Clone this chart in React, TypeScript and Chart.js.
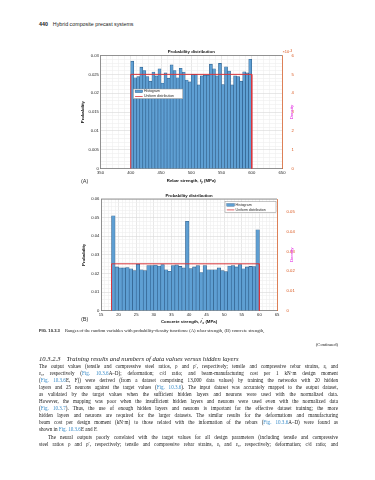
import React, { useEffect, useRef } from "react";
import { Chart, registerables } from "chart.js";

Chart.register(...registerables);

// ---------------- DATA ----------------
const headerPage = "440";
const headerTitle = "Hybrid composite precast systems";

const chartTitle = "Probability distribution";
const leftAxisTitle = "Probability";
const rightAxisTitle = "Density";
const legendLabels = ["Histogram", "Uniform distribution"];

// (A) rebar strength
const rebarRange = [400, 600];
const rebarProbability = [
  0.0285, 0.0241, 0.0244, 0.0269, 0.026, 0.0244, 0.0232, 0.0256, 0.0246, 0.0265,
  0.0227, 0.0254, 0.024, 0.0275, 0.026, 0.0241, 0.0266, 0.0256, 0.0235, 0.023,
  0.025, 0.025, 0.0222, 0.0246, 0.0248, 0.0248, 0.0277, 0.0265, 0.0246, 0.0279,
  0.0223, 0.027, 0.0259, 0.0222, 0.0246, 0.0244, 0.0232, 0.0257, 0.0254, 0.029,
];
const rebarUniformDensity = 0.005;
const rebarXTicks = [350, 400, 450, 500, 550, 600, 650];
const rebarYTicks = [0, 0.005, 0.01, 0.015, 0.02, 0.025, 0.03];
const rebarDensityTicks = [0, 0.001, 0.002, 0.003, 0.004, 0.005, 0.006];
const rebarXTitle = ["Rebar strength, ", "f", "y", " (MPa)"];

// (B) concrete strength
const concreteRange = [18, 60];
const concreteProbability = [
  0.051, 0.0235, 0.023, 0.023, 0.0232, 0.0225, 0.0215, 0.025, 0.022, 0.0215,
  0.0242, 0.0242, 0.0245, 0.024, 0.0248, 0.022, 0.0212, 0.0242, 0.0246, 0.0238,
  0.023, 0.048, 0.0226, 0.0235, 0.0242, 0.0205, 0.0242, 0.022, 0.022, 0.022,
  0.023, 0.0215, 0.021, 0.024, 0.0242, 0.0235, 0.0248, 0.0225, 0.0235, 0.0238,
  0.0237, 0.0435,
];
const concreteUniformDensity = 0.0238;
const concreteXTicks = [15, 20, 25, 30, 35, 40, 45, 50, 55, 60, 65];
const concreteYTicks = [0, 0.01, 0.02, 0.03, 0.04, 0.05, 0.06];
const concreteDensityTicks = [0, 0.01, 0.02, 0.03, 0.04, 0.05];
const concreteDensityMax = 0.0567;
const concreteXTitle = ["Concrete strength, ", "f", "c", " (MPa)"];

const figCaptionLabel = "FIG. 10.3.3";
const figCaption =
  "Ranges of the random variables with probability-density functions: (A) rebar strength, (B) concrete strength,";
const continued = "(Continued)";
const sectionNumber = "10.3.2.3";
const sectionTitle = "Training results and numbers of data values versus hidden layers";
const bodyLines = [
  "The output values (tensile and compressive steel ratios, ρ and ρ′, respectively; tensile and compressive rebar strains, εt and",
  "εc, respectively ({Fig. 10.3.6}A–D); deformation; c/d ratio; and beam-manufacturing cost per 1 kN·m design moment",
  "({Fig. 10.3.6}E, F)) were derived (from a dataset comprising 13,000 data values) by training the networks with 20 hidden",
  "layers and 25 neurons against the target values ({Fig. 10.3.6}). The input dataset was accurately mapped to the output dataset,",
  "as validated by the target values when the sufficient hidden layers and neurons were used with the normalized data.",
  "However, the mapping was poor when the insufficient hidden layers and neurons were used even with the normalized data",
  "({Fig. 10.3.7}). Thus, the use of enough hidden layers and neurons is important for the effective dataset training; the more",
  "hidden layers and neurons are required for the larger datasets. The similar results for the deformations and manufacturing",
  "beam cost per design moment (kN·m) to those related with the information of the rebars ({Fig. 10.3.6}A–D) were found as",
  "shown in {Fig. 10.3.6}E and F.",
  "The neural outputs poorly correlated with the target values for all design parameters (including tensile and compressive",
  "steel ratios ρ and ρ′, respectively; tensile and compressive rebar strains, εt and εc, respectively; deformation; c/d ratio; and",
];

// ---------------- STYLE ----------------
const FONT = '"Liberation Sans", Arial, sans-serif';
const SERIF = '"Liberation Serif", "Times New Roman", serif';
const TEXT = "#262626";
const AXIS = "#555555";
const ORANGE = "#D95319";
const MAGENTA = "#E020E0";
const RED = "#D8363C";
const BAR_FILL = "#5e9fd3";
const BAR_EDGE = "#2d5c88";
const GRID_MAJOR = "#d8d8d8";
const GRID_MINOR = "#efefef";
const LINK = "#3a8cc8";

const near = (v: number, list: number[]) => list.some((t) => Math.abs(t - v) < 1e-7 * Math.max(1, Math.abs(t)));
const fmt = (v: number) => (Math.abs(v) < 1e-12 ? "0" : String(parseFloat(v.toFixed(4))));

function drawRich(ctx: any, parts: { t: string; font: string; dy?: number }[], cx: number, cy: number) {
  let w = 0;
  parts.forEach((p) => {
    ctx.font = p.font;
    w += ctx.measureText(p.t).width;
  });
  let x = cx - w / 2;
  ctx.textAlign = "left";
  ctx.textBaseline = "middle";
  parts.forEach((p) => {
    ctx.font = p.font;
    ctx.fillText(p.t, x, cy + (p.dy || 0));
    x += ctx.measureText(p.t).width;
  });
}

type Spec = {
  range: number[];
  probs: number[];
  density: number;
  xTicks: number[];
  xMinor: number;
  yTicks: number[];
  yMinor: number;
  y1Ticks: number[];
  y1Max: number;
  y1Mult: number;
  xTitle: string[];
  prime: boolean;
  exponent: boolean;
  padTop: number;
  leftW: number;
  rightW: number;
  bottomH: number;
  titleGap: number;
  xTitleGap: number;
  yTitleGap: number;
  y1TitleGap: number;
  legend: { anchor: "left" | "right"; dx: number; dy: number; w: number; h: number; r1: number; r2: number };
};

function makeDecor(s: Spec) {
  return {
    id: "decor",
    afterDraw(chart: any) {
      const { ctx, chartArea: ca } = chart;
      const cx = (ca.left + ca.right) / 2;
      const cy = (ca.top + ca.bottom) / 2;
      ctx.save();
      ctx.strokeStyle = AXIS;
      ctx.lineWidth = 0.6;
      ctx.beginPath();
      ctx.moveTo(ca.left, ca.top);
      ctx.lineTo(ca.right, ca.top);
      ctx.stroke();
      ctx.fillStyle = "#111";
      ctx.font = `bold 4.3px ${FONT}`;
      ctx.textAlign = "center";
      ctx.textBaseline = "middle";
      ctx.fillText(chartTitle, cx, ca.top - s.titleGap);
      const parts: { t: string; font: string; dy?: number }[] = [
        { t: s.xTitle[0], font: `bold 4.3px ${FONT}` },
        { t: s.xTitle[1], font: `italic bold 4.3px ${FONT}` },
      ];
      if (s.prime) parts.push({ t: "′", font: `bold 3.2px ${FONT}`, dy: -1.2 });
      parts.push({ t: s.xTitle[2], font: `italic bold 3px ${FONT}`, dy: 1.2 });
      parts.push({ t: s.xTitle[3], font: `bold 4.3px ${FONT}` });
      drawRich(ctx, parts, cx, ca.bottom + s.xTitleGap);
      ctx.save();
      ctx.translate(ca.left - s.yTitleGap, cy);
      ctx.rotate(-Math.PI / 2);
      ctx.textAlign = "center";
      ctx.fillStyle = "#111";
      ctx.font = `bold 4.3px ${FONT}`;
      ctx.fillText(leftAxisTitle, 0, 0);
      ctx.restore();
      ctx.save();
      ctx.translate(ca.right + s.y1TitleGap, cy);
      ctx.rotate(-Math.PI / 2);
      ctx.textAlign = "center";
      ctx.fillStyle = MAGENTA;
      ctx.font = `4.3px ${FONT}`;
      ctx.fillText(rightAxisTitle, 0, 0);
      ctx.restore();
      if (s.exponent) {
        ctx.fillStyle = ORANGE;
        ctx.textAlign = "left";
        ctx.font = `4px ${FONT}`;
        ctx.fillText("×10", ca.right + 0.5, ca.top - 3.2);
        const w = ctx.measureText("×10").width;
        ctx.font = `3px ${FONT}`;
        ctx.fillText("-3", ca.right + 0.7 + w, ca.top - 4.8);
      }
      const L = s.legend;
      const lx = L.anchor === "left" ? ca.left + L.dx : ca.right - L.dx - L.w;
      const ly = ca.top + L.dy;
      ctx.fillStyle = "#fff";
      ctx.fillRect(lx, ly, L.w, L.h);
      ctx.strokeStyle = "#8c8c8c";
      ctx.lineWidth = 0.5;
      ctx.strokeRect(lx, ly, L.w, L.h);
      ctx.fillStyle = BAR_FILL;
      ctx.fillRect(lx + 1.8, ly + L.r1 - 1.3, 7.6, 2.6);
      ctx.strokeStyle = BAR_EDGE;
      ctx.lineWidth = 0.4;
      ctx.strokeRect(lx + 1.8, ly + L.r1 - 1.3, 7.6, 2.6);
      ctx.strokeStyle = RED;
      ctx.lineWidth = 0.8;
      ctx.beginPath();
      ctx.moveTo(lx + 1.8, ly + L.r2);
      ctx.lineTo(lx + 9.4, ly + L.r2);
      ctx.stroke();
      ctx.fillStyle = TEXT;
      ctx.font = `3.5px ${FONT}`;
      ctx.textAlign = "left";
      ctx.textBaseline = "middle";
      const labels = chart.data.datasets.map((d: any) => d.label);
      ctx.fillText(labels[0], lx + 10.6, ly + L.r1);
      ctx.fillText(labels[1], lx + 10.6, ly + L.r2);
      ctx.restore();
    },
  };
}

function makeChart(canvas: HTMLCanvasElement, s: Spec) {
  const bw = (s.range[1] - s.range[0]) / s.probs.length;
  const bars = s.probs.map((y, i) => ({ x: s.range[0] + bw * (i + 0.5), y }));
  const uniform = [
    { x: s.range[0], y: 0 },
    { x: s.range[0], y: s.density },
    { x: s.range[1], y: s.density },
    { x: s.range[1], y: 0 },
  ];
  const tickFont = { family: FONT, size: 4.2 };
  return new Chart(canvas, {
    type: "bar",
    data: {
      datasets: [
        {
          type: "bar",
          label: legendLabels[0],
          data: bars,
          xAxisID: "x",
          yAxisID: "y",
          backgroundColor: BAR_FILL,
          borderColor: BAR_EDGE,
          borderWidth: 0.6,
          barPercentage: 1,
          categoryPercentage: 1,
          order: 2,
        } as any,
        {
          type: "line",
          label: legendLabels[1],
          data: uniform,
          xAxisID: "x",
          yAxisID: "y1",
          borderColor: RED,
          borderWidth: 1,
          pointRadius: 0,
          fill: false,
          tension: 0,
          order: 1,
        } as any,
      ],
    },
    options: {
      animation: false,
      responsive: false,
      devicePixelRatio: 1,
      layout: { padding: { top: s.padTop, left: 0, right: 0, bottom: 0 } },
      plugins: { legend: { display: false }, tooltip: { enabled: false }, title: { display: false } },
      scales: {
        x: {
          type: "linear",
          position: "bottom",
          min: s.xTicks[0],
          max: s.xTicks[s.xTicks.length - 1],
          offset: false,
          afterFit: (sc: any) => {
            sc.height = s.bottomH;
          },
          ticks: {
            stepSize: s.xMinor,
            autoSkip: false,
            maxRotation: 0,
            padding: 1.2,
            color: TEXT,
            font: tickFont,
            callback: (v: any) => (near(Number(v), s.xTicks) ? String(v) : ""),
          },
          grid: {
            offset: false,
            drawTicks: false,
            lineWidth: 0.6,
            color: (c: any) => (c.tick && near(c.tick.value, s.xTicks) ? GRID_MAJOR : GRID_MINOR),
          },
          border: { display: true, color: AXIS, width: 0.6 },
        },
        y: {
          type: "linear",
          position: "left",
          min: s.yTicks[0],
          max: s.yTicks[s.yTicks.length - 1],
          afterFit: (sc: any) => {
            sc.width = s.leftW;
          },
          ticks: {
            stepSize: s.yMinor,
            autoSkip: false,
            padding: 1.6,
            color: TEXT,
            font: tickFont,
            callback: (v: any) => (near(Number(v), s.yTicks) ? fmt(Number(v)) : ""),
          },
          grid: {
            drawTicks: false,
            lineWidth: 0.6,
            color: (c: any) => (c.tick && near(c.tick.value, s.yTicks) ? GRID_MAJOR : GRID_MINOR),
          },
          border: { display: true, color: AXIS, width: 0.6 },
        },
        y1: {
          type: "linear",
          position: "right",
          min: 0,
          max: s.y1Max,
          afterFit: (sc: any) => {
            sc.width = s.rightW;
          },
          ticks: {
            stepSize: s.y1Ticks[1] - s.y1Ticks[0],
            autoSkip: false,
            padding: 1.6,
            color: ORANGE,
            font: tickFont,
            callback: (v: any) => (near(Number(v), s.y1Ticks) ? fmt(Number(v) * s.y1Mult) : ""),
          },
          grid: { display: false, drawOnChartArea: false },
          border: { display: true, color: ORANGE, width: 0.7 },
        },
      },
    } as any,
    plugins: [makeDecor(s)],
  });
}

const specA: Spec = {
  range: rebarRange,
  probs: rebarProbability,
  density: rebarUniformDensity,
  xTicks: rebarXTicks,
  xMinor: 10,
  yTicks: rebarYTicks,
  yMinor: 0.001,
  y1Ticks: rebarDensityTicks,
  y1Max: rebarDensityTicks[rebarDensityTicks.length - 1],
  y1Mult: 1000,
  xTitle: rebarXTitle,
  prime: false,
  exponent: true,
  padTop: 15.5,
  leftW: 60.5,
  rightW: 28,
  bottomH: 21.3,
  titleGap: 3.8,
  xTitleGap: 12,
  yTitleGap: 17.5,
  y1TitleGap: 9.5,
  legend: { anchor: "left", dx: 32.8, dy: 33.5, w: 49.5, h: 9.7, r1: 2.4, r2: 7.5 },
};

const specB: Spec = {
  range: concreteRange,
  probs: concreteProbability,
  density: concreteUniformDensity,
  xTicks: concreteXTicks,
  xMinor: 1,
  yTicks: concreteYTicks,
  yMinor: 0.002,
  y1Ticks: concreteDensityTicks,
  y1Max: concreteDensityMax,
  y1Mult: 1,
  xTitle: concreteXTitle,
  prime: true,
  exponent: false,
  padTop: 13,
  leftW: 61,
  rightW: 33,
  bottomH: 25.3,
  titleGap: 3.3,
  xTitleGap: 11,
  yTitleGap: 17,
  y1TitleGap: 14.5,
  legend: { anchor: "right", dx: 1, dy: 2.7, w: 51, h: 11, r1: 3.2, r2: 8.2 },
};

function renderLine(line: string) {
  const tokens = line.split(/(\{[^}]+\}|ε[tc])/);
  return tokens.map((t, i) => {
    if (!t) return null;
    if (t.startsWith("{")) return <span key={i} style={{ color: LINK }}>{t.slice(1, -1)}</span>;
    if (/^ε[tc]$/.test(t))
      return (
        <span key={i}>
          ε<sub style={{ fontSize: "70%", verticalAlign: "-0.5px", lineHeight: 0 }}>{t[1]}</sub>
        </span>
      );
    return <span key={i}>{t}</span>;
  });
}

export default function App() {
  const refA = useRef<HTMLCanvasElement>(null);
  const refB = useRef<HTMLCanvasElement>(null);

  useEffect(() => {
    const a = makeChart(refA.current as HTMLCanvasElement, specA);
    const b = makeChart(refB.current as HTMLCanvasElement, specB);
    return () => {
      a.destroy();
      b.destroy();
    };
  }, []);

  const abs = (left: number, centerY: number, lh: number, extra: any = {}) => ({
    position: "absolute" as const,
    left,
    top: centerY - lh / 2,
    lineHeight: `${lh}px`,
    height: lh,
    whiteSpace: "nowrap" as const,
    ...extra,
  });

  const lineTop = 366.5;
  const linePitch = 7.05;

  return (
    <div
      style={{
        position: "fixed",
        left: 0,
        top: 0,
        width: 375,
        height: 480,
        background: "#fff",
        overflow: "hidden",
        color: "#1a1a1a",
      }}
    >
      <div style={abs(39, 24, 6, { fontFamily: FONT, fontSize: 5.3 })}>
        <b>{headerPage}</b>
        <span style={{ marginLeft: 5 }}>{headerTitle}</span>
      </div>

      <canvas
        ref={refA}
        width={270}
        height={150}
        style={{ position: "absolute", left: 40, top: 40, width: 270, height: 150 }}
      />
      <canvas
        ref={refB}
        width={270}
        height={150}
        style={{ position: "absolute", left: 40, top: 186, width: 270, height: 150 }}
      />

      <div style={abs(81, 181, 7, { fontFamily: FONT, fontSize: 5.6, color: "#333" })}>(A)</div>
      <div style={abs(81, 319.5, 7, { fontFamily: FONT, fontSize: 5.6, color: "#333" })}>(B)</div>

      <div style={abs(39, 330.5, 6, { fontFamily: SERIF, fontSize: 4.6 })}>
        <span style={{ fontFamily: FONT, fontWeight: "bold", fontSize: 4.2 }}>{figCaptionLabel}</span>
        <span style={{ marginLeft: 5 }}>{figCaption}</span>
      </div>
      <div
        style={{
          ...abs(0, 345, 6, { fontFamily: SERIF, fontSize: 4.6 }),
          left: undefined,
          right: 37,
        }}
      >
        {continued}
      </div>

      <div style={abs(39, 358.5, 8, { fontFamily: SERIF, fontSize: 6.6, fontStyle: "italic" })}>
        {sectionNumber}
        <span style={{ marginLeft: 6 }}>{sectionTitle}</span>
      </div>

      {bodyLines.map((ln, i) => {
        const justify = i !== 9;
        const indent = i === 10 ? 9 : 0;
        return (
          <div
            key={i}
            style={{
              position: "absolute",
              left: 39 + indent,
              width: 299 - indent,
              top: lineTop + i * linePitch - 3.5,
              height: 7,
              lineHeight: "7px",
              overflow: "hidden",
              fontFamily: SERIF,
              fontSize: 5.1,
              textAlign: justify ? "justify" : "left",
              textAlignLast: justify ? "justify" : "left",
            }}
          >
            {renderLine(ln)}
          </div>
        );
      })}
    </div>
  );
}
